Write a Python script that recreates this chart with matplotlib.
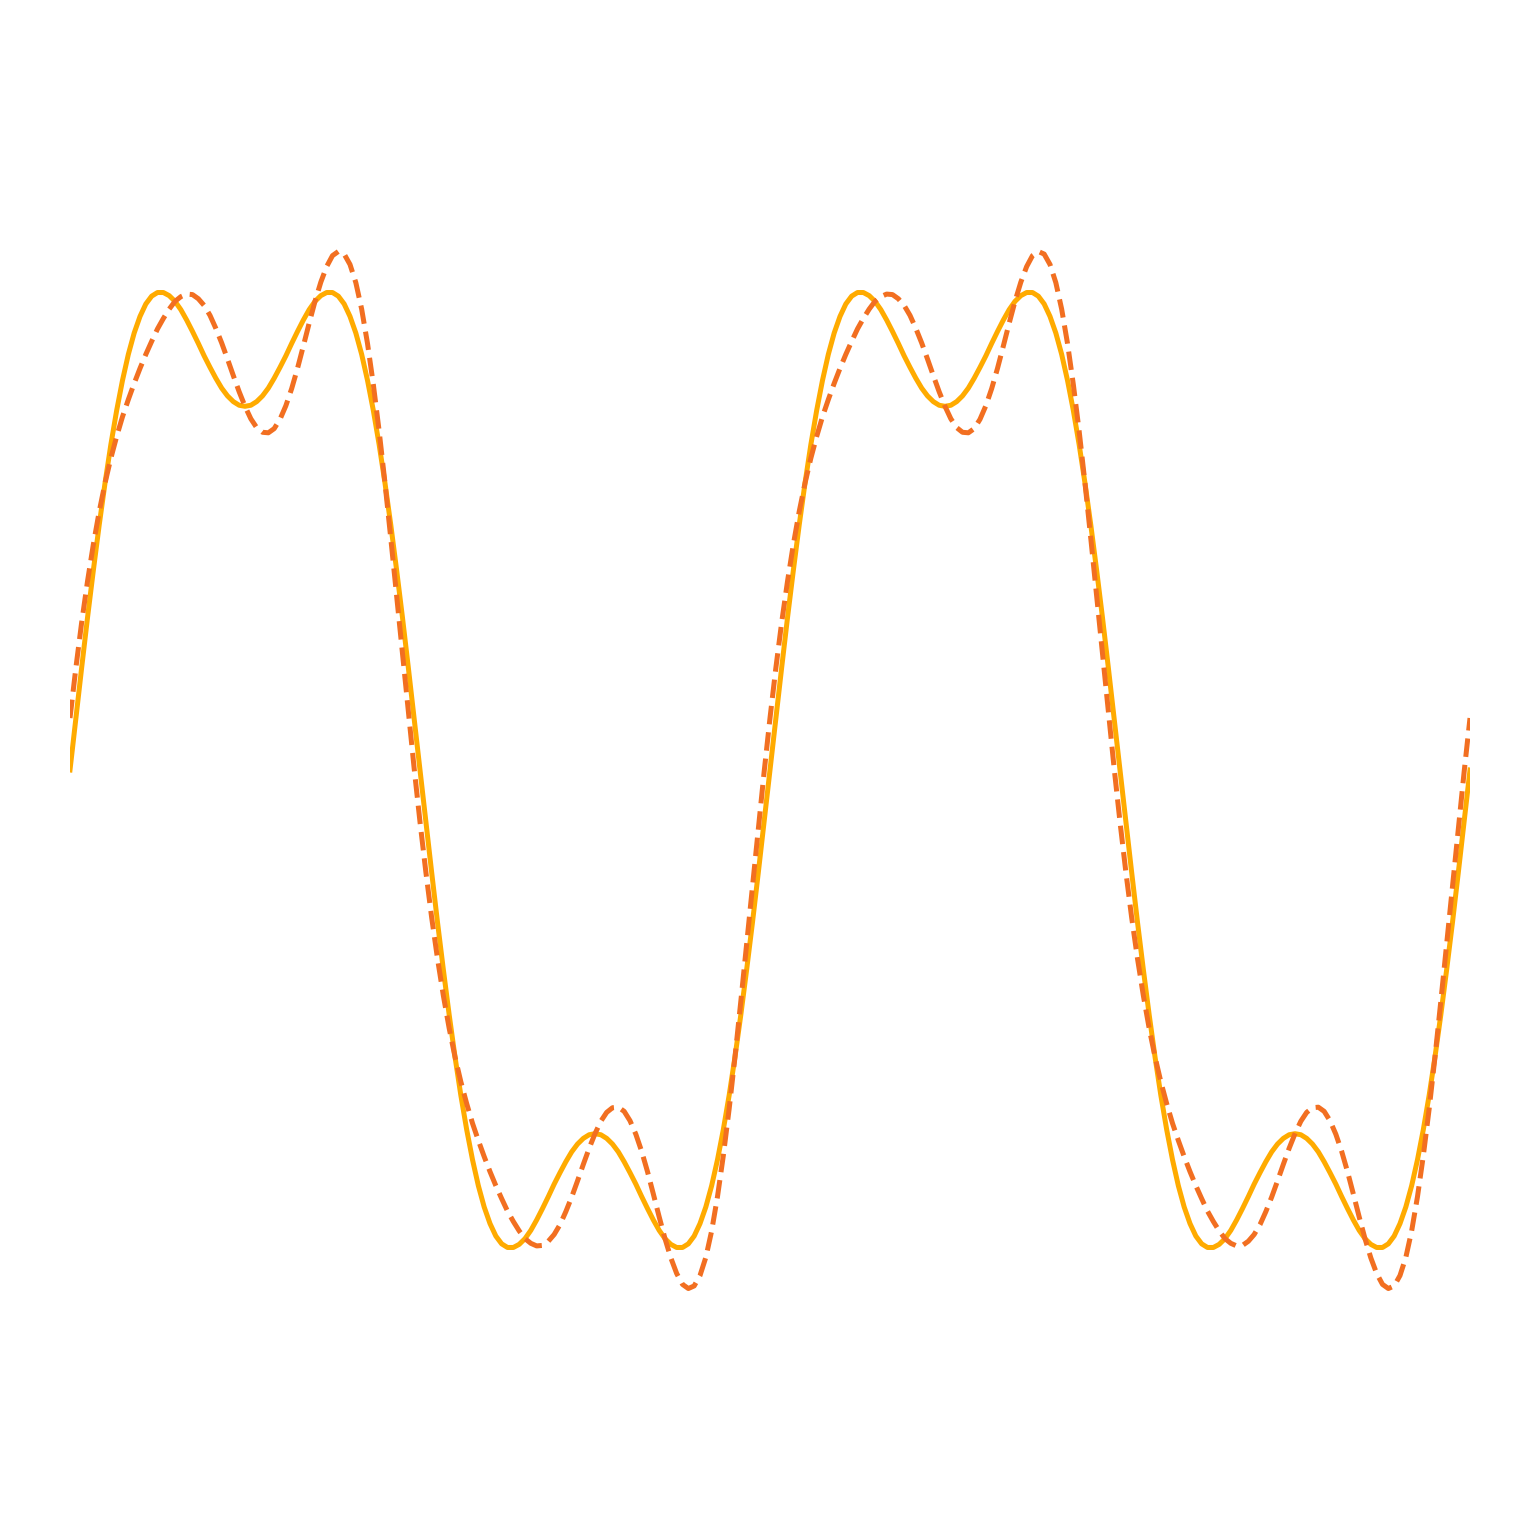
import numpy as np
import matplotlib
matplotlib.use("Agg")
import matplotlib.pyplot as plt

# phase in degrees, two full periods, one reading every 3 degrees
phase = np.linspace(0, 720, 241)

# solid curve, values (one unit ~ 520 px)
solid = [
    0.000, 0.099, 0.197, 0.293, 0.384, 0.471, 0.552, 0.626, 0.692, 0.750,
    0.800, 0.841, 0.873, 0.897, 0.912, 0.919, 0.919, 0.913, 0.902, 0.886,
    0.866, 0.844, 0.821, 0.797, 0.775, 0.754, 0.735, 0.720, 0.709, 0.702,
    0.700, 0.702, 0.709, 0.720, 0.735, 0.754, 0.775, 0.797, 0.821, 0.844,
    0.866, 0.886, 0.902, 0.913, 0.919, 0.919, 0.912, 0.897, 0.873, 0.841,
    0.800, 0.750, 0.692, 0.626, 0.552, 0.471, 0.384, 0.293, 0.197, 0.099,
    0.000, -0.099, -0.197, -0.293, -0.384, -0.471, -0.552, -0.626, -0.692, -0.750,
    -0.800, -0.841, -0.873, -0.897, -0.912, -0.919, -0.919, -0.913, -0.902, -0.886,
    -0.866, -0.844, -0.821, -0.797, -0.775, -0.754, -0.735, -0.720, -0.709, -0.702,
    -0.700, -0.702, -0.709, -0.720, -0.735, -0.754, -0.775, -0.797, -0.821, -0.844,
    -0.866, -0.886, -0.902, -0.913, -0.919, -0.919, -0.912, -0.897, -0.873, -0.841,
    -0.800, -0.750, -0.692, -0.626, -0.552, -0.471, -0.384, -0.293, -0.197, -0.099,
    0.000, 0.099, 0.197, 0.293, 0.384, 0.471, 0.552, 0.626, 0.692, 0.750,
    0.800, 0.841, 0.873, 0.897, 0.912, 0.919, 0.919, 0.913, 0.902, 0.886,
    0.866, 0.844, 0.821, 0.797, 0.775, 0.754, 0.735, 0.720, 0.709, 0.702,
    0.700, 0.702, 0.709, 0.720, 0.735, 0.754, 0.775, 0.797, 0.821, 0.844,
    0.866, 0.886, 0.902, 0.913, 0.919, 0.919, 0.912, 0.897, 0.873, 0.841,
    0.800, 0.750, 0.692, 0.626, 0.552, 0.471, 0.384, 0.293, 0.197, 0.099,
    0.000, -0.099, -0.197, -0.293, -0.384, -0.471, -0.552, -0.626, -0.692, -0.750,
    -0.800, -0.841, -0.873, -0.897, -0.912, -0.919, -0.919, -0.913, -0.902, -0.886,
    -0.866, -0.844, -0.821, -0.797, -0.775, -0.754, -0.735, -0.720, -0.709, -0.702,
    -0.700, -0.702, -0.709, -0.720, -0.735, -0.754, -0.775, -0.797, -0.821, -0.844,
    -0.866, -0.886, -0.902, -0.913, -0.919, -0.919, -0.912, -0.897, -0.873, -0.841,
    -0.800, -0.750, -0.692, -0.626, -0.552, -0.471, -0.384, -0.293, -0.197, -0.099,
    0.000]

# dashed curve, same sample points
dashed = [
    0.100, 0.196, 0.284, 0.363, 0.434, 0.497, 0.552, 0.600, 0.642, 0.680,
    0.713, 0.744, 0.773, 0.800, 0.825, 0.849, 0.869, 0.887, 0.902, 0.911,
    0.916, 0.915, 0.907, 0.894, 0.875, 0.850, 0.822, 0.791, 0.759, 0.728,
    0.700, 0.676, 0.659, 0.650, 0.649, 0.657, 0.675, 0.701, 0.734, 0.773,
    0.816, 0.860, 0.902, 0.939, 0.969, 0.990, 0.998, 0.993, 0.973, 0.938,
    0.887, 0.821, 0.742, 0.652, 0.552, 0.445, 0.334, 0.222, 0.111, 0.003,
    -0.100, -0.196, -0.284, -0.363, -0.434, -0.497, -0.552, -0.600, -0.642, -0.680,
    -0.713, -0.744, -0.773, -0.800, -0.825, -0.849, -0.869, -0.887, -0.902, -0.911,
    -0.916, -0.915, -0.907, -0.894, -0.875, -0.850, -0.822, -0.791, -0.759, -0.728,
    -0.700, -0.676, -0.659, -0.650, -0.649, -0.657, -0.675, -0.701, -0.734, -0.773,
    -0.816, -0.860, -0.902, -0.939, -0.969, -0.990, -0.998, -0.993, -0.973, -0.938,
    -0.887, -0.821, -0.742, -0.652, -0.552, -0.445, -0.334, -0.222, -0.111, -0.003,
    0.100, 0.196, 0.284, 0.363, 0.434, 0.497, 0.552, 0.600, 0.642, 0.680,
    0.713, 0.744, 0.773, 0.800, 0.825, 0.849, 0.869, 0.887, 0.902, 0.911,
    0.916, 0.915, 0.907, 0.894, 0.875, 0.850, 0.822, 0.791, 0.759, 0.728,
    0.700, 0.676, 0.659, 0.650, 0.649, 0.657, 0.675, 0.701, 0.734, 0.773,
    0.816, 0.860, 0.902, 0.939, 0.969, 0.990, 0.998, 0.993, 0.973, 0.938,
    0.887, 0.821, 0.742, 0.652, 0.552, 0.445, 0.334, 0.222, 0.111, 0.003,
    -0.100, -0.196, -0.284, -0.363, -0.434, -0.497, -0.552, -0.600, -0.642, -0.680,
    -0.713, -0.744, -0.773, -0.800, -0.825, -0.849, -0.869, -0.887, -0.902, -0.911,
    -0.916, -0.915, -0.907, -0.894, -0.875, -0.850, -0.822, -0.791, -0.759, -0.728,
    -0.700, -0.676, -0.659, -0.650, -0.649, -0.657, -0.675, -0.701, -0.734, -0.773,
    -0.816, -0.860, -0.902, -0.939, -0.969, -0.990, -0.998, -0.993, -0.973, -0.938,
    -0.887, -0.821, -0.742, -0.652, -0.552, -0.445, -0.334, -0.222, -0.111, -0.003,
    0.100]

fig = plt.figure(figsize=(15.4, 15.4), dpi=100)
ax = fig.add_axes([70 / 1540, 0, 1400 / 1540, 1])

ax.plot(phase, solid, color='#FFAB00', lw=3.6, solid_joinstyle='round')
ax.plot(phase, dashed, color='#F26F21', lw=3.6, linestyle='--')

ax.set_xlim(0, 720)
ax.set_ylim(-1.482, 1.482)
ax.axis('off')

fig.savefig('out.png', dpi=100)
